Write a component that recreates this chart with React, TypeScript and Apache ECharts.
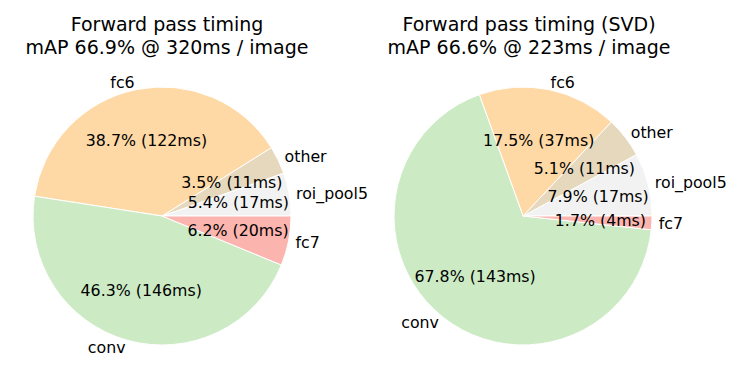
import React, { useEffect, useRef } from "react";
import * as echarts from "echarts";

const categories = ["roi_pool5", "other", "fc6", "conv", "fc7"];
const colors = ["#f2f2f2", "#e5d8bd", "#fed9a6", "#ccebc5", "#fbb4ae"];

const pctFull = [5.4, 3.5, 38.7, 46.3, 6.2];
const msFull = [17, 11, 122, 146, 20];

const pctSvd = [7.9, 5.1, 17.5, 67.8, 1.7];
const msSvd = [17, 11, 37, 143, 4];

const titles = [
  "Forward pass timing\nmAP 66.9% @ 320ms / image",
  "Forward pass timing (SVD)\nmAP 66.6% @ 223ms / image",
];

const FONT = "DejaVu Sans";
const R = 129;

function pieSeries(center: [number, number], pct: number[], ms: number[]) {
  const data = categories.map((name, i) => ({
    name,
    value: pct[i],
    itemStyle: { color: colors[i] },
  }));
  return [
    {
      type: "pie",
      center,
      radius: [0, R],
      startAngle: 0,
      clockwise: false,
      avoidLabelOverlap: false,
      silent: true,
      itemStyle: { borderColor: "#ffffff", borderWidth: 1 },
      label: {
        show: true,
        position: "outside",
        formatter: "{b}",
        fontFamily: FONT,
        fontSize: 15.8,
        color: "#000",
        distanceToLabelLine: 0,
      },
      labelLine: { show: false, length: 7, length2: 0 },
      emphasis: { disabled: true },
      data,
    },
    {
      type: "pie",
      center,
      radius: [0, 149],
      startAngle: 0,
      clockwise: false,
      avoidLabelOverlap: false,
      silent: true,
      z: 3,
      itemStyle: { color: "transparent", borderWidth: 0 },
      label: {
        show: true,
        position: "inside",
        formatter: (p: any) => `${pct[p.dataIndex].toFixed(1)}% (${ms[p.dataIndex]}ms)`,
        fontFamily: FONT,
        fontSize: 15.8,
        color: "#000",
      },
      labelLine: { show: false },
      emphasis: { disabled: true },
      data: categories.map((name, i) => ({
        name,
        value: pct[i],
        itemStyle: { color: "rgba(0,0,0,0)" },
      })),
    },
  ];
}

export default function App() {
  const ref = useRef<HTMLDivElement>(null);
  useEffect(() => {
    if (!ref.current) return;
    const chart = echarts.init(ref.current, undefined, { renderer: "svg" });
    chart.setOption({
      animation: false,
      backgroundColor: "#ffffff",
      title: [
        {
          text: titles[0],
          left: 162,
          top: 8,
          textAlign: "center",
          textStyle: { fontFamily: FONT, fontSize: 19, fontWeight: "normal", color: "#000", lineHeight: 22.5 },
        },
        {
          text: titles[1],
          left: 524,
          top: 8,
          textAlign: "center",
          textStyle: { fontFamily: FONT, fontSize: 19, fontWeight: "normal", color: "#000", lineHeight: 22.5 },
        },
      ],
      series: [
        ...pieSeries([162, 216], pctFull, msFull),
        ...pieSeries([523, 216], pctSvd, msSvd),
      ],
    });
    return () => chart.dispose();
  }, []);
  return (
    <div
      ref={ref}
      style={{ position: "fixed", left: 0, top: 0, width: 733, height: 365 }}
    />
  );
}
